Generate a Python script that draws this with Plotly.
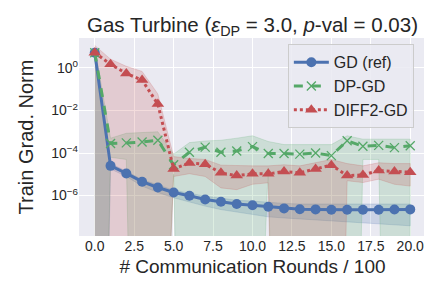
import plotly.graph_objects as go

rounds = list(range(21))

gd_mean = [5.25, 2.5e-5, 1.1e-5, 4.5e-6, 2.4e-6, 1.4e-6, 9.8e-7, 6.6e-7, 5.1e-7, 4.0e-7, 3.5e-7,
           3.0e-7, 2.5e-7, 2.3e-7, 2.24e-7, 2.14e-7, 2.14e-7, 2.14e-7, 2.14e-7, 2.2e-7, 2.24e-7]
gd_upper = [8.0, 3.2e-5, 1.4e-5, 5.6e-6, 3.2e-6, 1.8e-6, 1.3e-6, 9.3e-7, 7.6e-7, 6.0e-7, 5.5e-7,
            4.8e-7, 4.3e-7, 4.0e-7, 4.0e-7, 3.8e-7, 3.8e-7, 3.8e-7, 3.8e-7, 3.9e-7, 4.0e-7]
gd_lower = [0, 1.8e-5, 7.9e-6, 2.8e-6, 1.4e-6, 7.9e-7, 5.0e-7, 3.2e-7, 2.2e-7, 1.6e-7, 1.3e-7,
            1.0e-7, 8.9e-8, 7.9e-8, 7.1e-8, 6.3e-8, 5.6e-8, 5.0e-8, 4.5e-8, 4.2e-8, 3.8e-8]

dp_mean = [5.25, 2.8e-4, 3.0e-4, 3.3e-4, 4.0e-4, 2.8e-5, 1.1e-4, 1.9e-4, 1.1e-4, 1.26e-4, 2.0e-4,
           9.5e-5, 9.5e-5, 8.9e-5, 1.0e-4, 7.6e-5, 3.8e-4, 2.1e-4, 2.3e-4, 1.8e-4, 2.2e-4]
dp_upper = [9.0, 5.0e-4, 8.5e-4, 9.5e-4, 1.0e-3, 8.9e-5, 3.1e-4, 3.7e-4, 4.0e-4, 5.0e-4, 6.5e-4,
            3.5e-4, 2.5e-4, 2.5e-4, 2.5e-4, 2.5e-4, 6.5e-4, 4.5e-4, 4.5e-4, 4.5e-4, 4.5e-4]
dp_lower = [0, 6.3e-5, 5.0e-5, 0, 0, 1.0e-5, 0, 0, 0, 0, 0,
            2.0e-5, 0, 0, 0, 0, 0, 5.0e-5, 5.0e-5, 0, 0]

diff_mean = [5.25, 1.48, 0.55, 0.27, 0.02, 1.8e-5, 3.4e-5, 3.0e-5, 1.17e-5, 8.7e-6, 1.05e-5,
             1.05e-5, 1.35e-5, 1.17e-5, 1.8e-5, 2.7e-5, 8.7e-6, 9.3e-6, 1.5e-5, 1.35e-5, 1.26e-5]
diff_upper = [11.5, 2.6, 1.2, 0.69, 0.06, 6.8e-5, 5.6e-5, 5.0e-5, 2.7e-5, 2.5e-5, 2.5e-5,
              2.5e-5, 2.8e-5, 2.5e-5, 3.5e-5, 5.0e-5, 3.2e-5, 2.5e-5, 3.5e-5, 3.2e-5, 3.2e-5]
diff_lower = [0, 0, 0, 0, 0, 7.9e-6, 1.07e-5, 7.9e-6, 2.3e-6, 1.9e-6, 3.4e-6,
              4.0e-6, 0, 0, 0, 0, 5.0e-6, 4.1e-6, 5.9e-6, 3.4e-6, 2.8e-6]

x_ticks = [0, 2.5, 5, 7.5, 10, 12.5, 15, 17.5, 20]
x_tick_labels = ["0.0", "2.5", "5.0", "7.5", "10.0", "12.5", "15.0", "17.5", "20.0"]
y_ticks = [1, 1e-2, 1e-4, 1e-6]
y_tick_labels = ["10<sup>0</sup>", "10<sup>−2</sup>", "10<sup>−4</sup>", "10<sup>−6</sup>"]

BLUE = "#4C72B0"
GREEN = "#55A868"
RED = "#C44E52"
FLOOR = 1e-40  # non-positive lower bounds are clipped (like matplotlib's log clip)


def rgba(hexc, a):
    h = hexc.lstrip("#")
    return f"rgba({int(h[0:2],16)},{int(h[2:4],16)},{int(h[4:6],16)},{a})"


fig = go.Figure()

for upper, lower, col in [(gd_upper, gd_lower, BLUE), (dp_upper, dp_lower, GREEN), (diff_upper, diff_lower, RED)]:
    lo = [v if v > 0 else FLOOR for v in lower]
    fig.add_trace(go.Scatter(
        x=rounds + rounds[::-1], y=upper + lo[::-1],
        fill="toself", fillcolor=rgba(col, 0.2),
        line=dict(color=rgba(col, 0.25), width=0.8),
        mode="lines", showlegend=False, hoverinfo="skip"))

fig.add_trace(go.Scatter(
    x=rounds, y=gd_mean, name="GD (ref)", mode="lines+markers",
    line=dict(color=BLUE, width=3),
    marker=dict(symbol="circle", size=10, color=BLUE)))
fig.add_trace(go.Scatter(
    x=rounds, y=dp_mean, name="DP-GD", mode="lines+markers",
    line=dict(color=GREEN, width=3, dash="dash"),
    marker=dict(symbol="x-thin", size=9, color=GREEN, line=dict(color=GREEN, width=1.3))))
fig.add_trace(go.Scatter(
    x=rounds, y=diff_mean, name="DIFF2-GD", mode="lines+markers",
    line=dict(color=RED, width=3, dash="dot"),
    marker=dict(symbol="triangle-up", size=11, color=RED)))

FONT = "Liberation Sans, Arial, sans-serif"
TXT = "#262626"

fig.update_layout(
    width=424, height=280,
    margin=dict(l=71, r=6, t=30, b=52),
    paper_bgcolor="white", plot_bgcolor="#EAEAF2",
    font=dict(family=FONT, color=TXT, size=14),
    title=dict(text="Gas Turbine (<i>ε</i><sub>DP</sub> = 3.0, <i>p</i>-val = 0.03)",
               x=0.5, xref="paper", xanchor="center", y=0.94, yanchor="middle",
               font=dict(size=20.5, family=FONT, color=TXT)),
    legend=dict(x=0.965, xanchor="right", y=0.968, yanchor="top",
                bgcolor="rgba(234,234,242,0.85)", bordercolor="#CCCCCC", borderwidth=1,
                font=dict(size=16, family=FONT, color=TXT),
                itemwidth=35),
    showlegend=True,
)
fig.update_xaxes(range=[-1, 21], tickvals=x_ticks, ticktext=x_tick_labels,
                 showgrid=True, gridcolor="white", gridwidth=1, zeroline=False,
                 showline=False, ticks="", tickfont=dict(size=14),
                 title=dict(text="# Communication Rounds / 100", font=dict(size=19), standoff=6))
fig.update_yaxes(type="log", range=[-7.9, 1.41], autorange=False,
                 tickvals=y_ticks, ticktext=y_tick_labels,
                 showgrid=True, gridcolor="white", gridwidth=1, zeroline=False,
                 showline=False, ticks="", tickfont=dict(size=14),
                 title=dict(text="Train Grad. Norm", font=dict(size=20), standoff=12))

fig.write_html("out.html")
